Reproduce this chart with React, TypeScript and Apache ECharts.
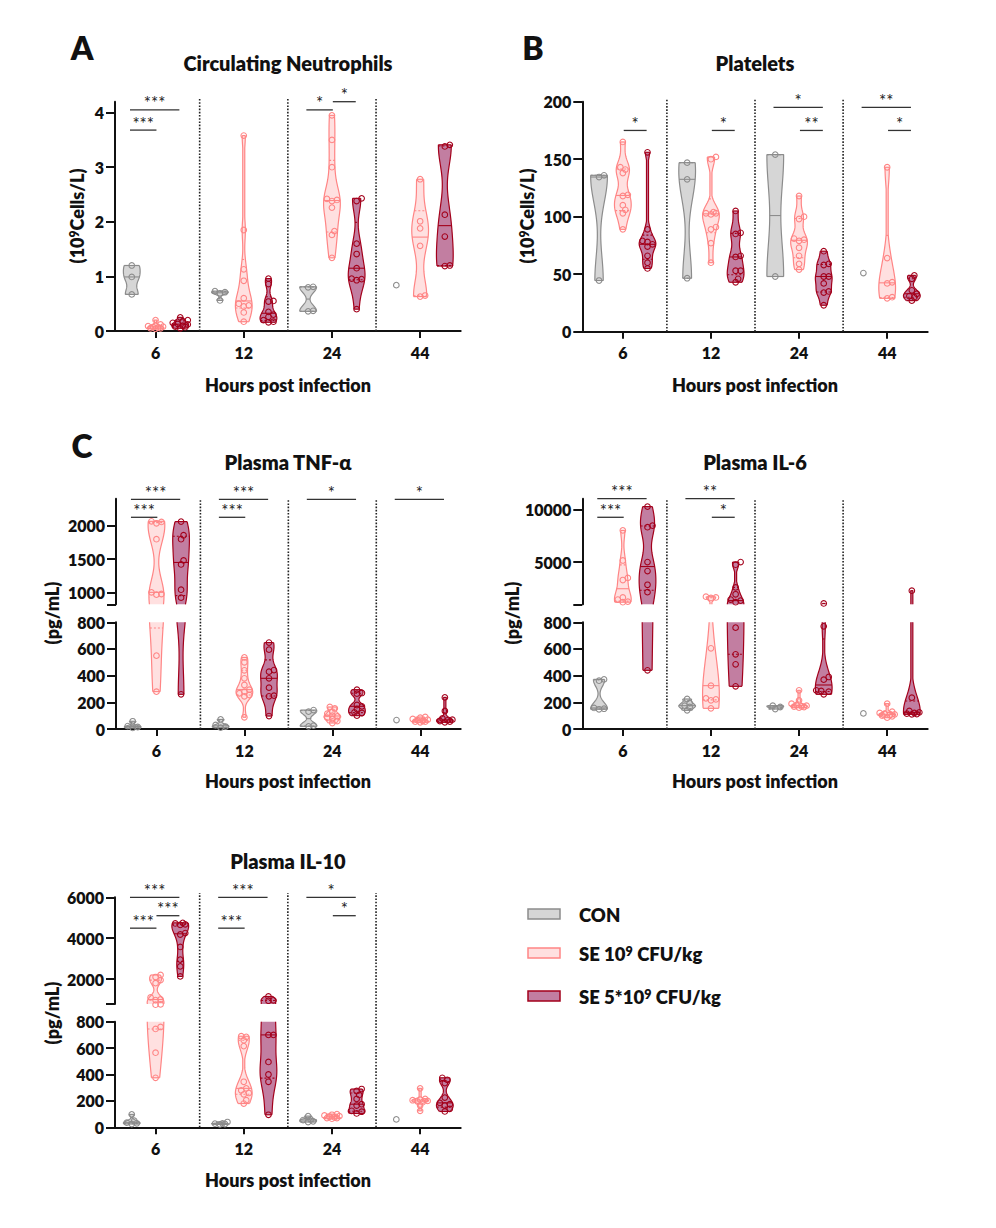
import { useEffect, useRef } from 'react';
import * as echarts from 'echarts';

const HOURS = ['6', '12', '24', '44'];

// Circulating neutrophils (10^9 cells/L), one list per time point
const NEUT_CON = [[1.2, 0.99, 0.67], [0.73, 0.71, 0.69, 0.56], [0.81, 0.8, 0.37, 0.36], [0.84]];
const NEUT_SE1 = [
  [0.2, 0.12, 0.1, 0.09, 0.08, 0.07, 0.06, 0.05, 0.05, 0.04],
  [3.58, 1.85, 1.13, 0.92, 0.6, 0.5, 0.47, 0.45, 0.34, 0.17],
  [3.95, 3.5, 3.0, 2.42, 2.4, 2.38, 2.26, 1.83, 1.76, 1.34],
  [2.78, 2.01, 1.88, 1.56, 0.65, 0.63],
];
const NEUT_SE5 = [
  [0.25, 0.2, 0.18, 0.15, 0.13, 0.12, 0.1, 0.08, 0.07, 0.05],
  [0.96, 0.86, 0.55, 0.54, 0.35, 0.3, 0.26, 0.2, 0.17, 0.16],
  [2.43, 2.38, 1.6, 1.41, 1.15, 0.96, 0.95, 0.93, 0.4],
  [3.41, 3.38, 2.13, 1.73, 1.2, 1.19],
];

// Platelets (10^9 cells/L)
const PLT_CON = [[136, 134.5, 44.5], [147, 132.5, 46.5], [154, 48], [51]];
const PLT_SE1 = [
  [165, 143, 141, 138, 119, 118, 110, 106, 103, 89],
  [152, 150, 104, 103, 103, 102, 91, 89, 77, 60],
  [118, 100, 98, 81, 80, 79, 73, 66, 59, 54],
  [143, 64, 43, 42, 30, 29],
];
const PLT_SE5 = [
  [156, 89, 79, 78, 76, 74, 66, 60, 55],
  [105, 86, 85, 66, 65, 53, 53, 46, 43],
  [70, 59, 58, 48, 48, 42, 35, 34, 23],
  [49, 46, 36, 33, 31, 30, 27],
];

// Plasma TNF-alpha (pg/mL)
const TNF_CON = [[58, 22, 15, 8], [72, 30, 18, 10], [142, 130, 25, 20], [67]];
const TNF_SE1 = [
  [2070, 2060, 2040, 1800, 1000, 975, 965, 550, 280],
  [537, 500, 440, 380, 330, 295, 280, 268, 255, 245, 88],
  [165, 155, 130, 115, 100, 95, 85, 75, 60, 45],
  [90, 85, 75, 70, 65, 60, 55, 55, 50],
];
const TNF_SE5 = [
  [2065, 1860, 1800, 1480, 1420, 1040, 920, 260],
  [648, 595, 442, 430, 380, 310, 250, 245, 97],
  [295, 270, 265, 180, 170, 150, 125, 120, 100],
  [237, 135, 80, 70, 65, 60, 55, 50],
];

// Plasma IL-6 (pg/mL)
const IL6_CON = [[372, 362, 158, 152, 148], [225, 195, 175, 165, 140], [175, 165, 150], [117]];
const IL6_SE1 = [
  [8000, 5150, 3500, 3300, 1650, 1450, 1250, 1200],
  [1720, 1650, 1600, 605, 325, 230, 222, 215, 155],
  [290, 215, 190, 180, 175, 170, 168, 165, 160],
  [190, 130, 120, 115, 110, 105, 100, 95, 85],
];
const IL6_SE5 = [
  [10250, 8450, 8300, 5000, 4150, 2850, 2150, 440],
  [5000, 4750, 2600, 1950, 1450, 1350, 1200, 760, 560, 485, 320],
  [1080, 770, 390, 370, 290, 285, 280, 260],
  [2290, 235, 135, 125, 120, 115, 112, 110],
];

// Plasma IL-10 (pg/mL)
const IL10_CON = [[98, 50, 35, 30, 25], [40, 30, 28, 25, 22], [85, 60, 55, 45, 40], [60]];
const IL10_SE1 = [
  [2200, 2100, 1950, 1800, 1100, 1000, 970, 760, 745, 565, 375],
  [690, 685, 660, 615, 345, 295, 280, 260, 250, 205, 180],
  [100, 95, 90, 85, 80, 75, 70, 70, 65],
  [295, 215, 210, 205, 200, 195, 190, 165, 125],
];
const IL10_SE5 = [
  [4750, 4720, 4680, 4650, 4250, 4180, 3570, 2950, 2620, 2130],
  [1150, 960, 940, 700, 700, 495, 400, 345, 95],
  [290, 275, 245, 215, 175, 165, 125, 118, 105],
  [375, 360, 335, 225, 185, 175, 165, 140, 120],
];

// significance brackets: [hour index, from group, to group, level, stars]
const NEUT_SIG = [[0, 0, 2, 4.05, '***'], [0, 0, 1, 3.68, '***'], [2, 0, 1, 4.05, '*'], [2, 1, 2, 4.2, '*']];
const PLT_SIG = [
  [0, 1, 2, 175, '*'], [1, 1, 2, 175, '*'], [2, 0, 2, 195, '*'], [2, 1, 2, 175, '**'],
  [3, 0, 2, 195, '**'], [3, 1, 2, 175, '*'],
];
const TNF_SIG = [
  [0, 0, 2, 2400, '***'], [0, 0, 1, 2130, '***'], [1, 0, 2, 2400, '***'], [1, 0, 1, 2130, '***'],
  [2, 0, 2, 2400, '*'], [3, 0, 2, 2400, '*'],
];
const IL6_SIG = [[0, 0, 2, 11000, '***'], [0, 0, 1, 9240, '***'], [1, 0, 2, 11000, '**'], [1, 1, 2, 9240, '*']];
const IL10_SIG = [
  [0, 0, 2, 6000, '***'], [0, 0, 1, 4490, '***'], [0, 1, 2, 5100, '***'],
  [1, 0, 2, 6000, '***'], [1, 0, 1, 4490, '***'], [2, 0, 2, 6000, '*'], [2, 1, 2, 5100, '*'],
];

const FONT = 'Lato, "Open Sans", "Noto Sans", sans-serif';
const WEIGHT = 800;
const COLORS = [
  { fill: '#d6d6d6', line: '#8c8c8c' },
  { fill: '#ffe0e0', line: '#ff8585' },
  { fill: '#c27ea1', line: '#a3001b' },
];
const X_MIN = -0.46;
const X_MAX = 3.46;
const VIOLIN_X = [-0.27, 0, 0.28];
const BR_X = [-0.29, 0.01, 0.27];
const HALF_W = 0.095;
const DOT_R = 2.8;

const quartile = (s: number[], p: number) => {
  const pos = (s.length + 1) * p;
  const i = Math.floor(pos);
  if (i < 1) return s[0];
  if (i >= s.length) return s[s.length - 1];
  return s[i - 1] + (pos - i) * (s[i] - s[i - 1]);
};

// kernel density, truncated at min / max like Prism
const makeProfile = (vals: number[]) => {
  const s = [...vals].sort((a, b) => a - b);
  const n = s.length;
  const range = s[n - 1] - s[0] || 1;
  const mean = s.reduce((a, b) => a + b, 0) / n;
  const sd = Math.sqrt(s.reduce((a, b) => a + (b - mean) ** 2, 0) / Math.max(n - 1, 1));
  let spread = Math.min(sd, (quartile(s, 0.75) - quartile(s, 0.25)) / 1.34);
  if (!(spread > 0)) spread = sd;
  const bw = Math.max(0.55 * spread * Math.pow(n, -0.2), range * 0.05);
  const raw = (v: number) => s.reduce((acc, x) => acc + Math.exp(-0.5 * ((v - x) / bw) ** 2), 0);
  let peak = 0;
  for (let i = 0; i <= 200; i++) peak = Math.max(peak, raw(s[0] + (range * i) / 200));
  return { s, min: s[0], max: s[n - 1], width: (v: number) => raw(v) / peak };
};

const violinRenderer = (sets: number[][][], lo: number, hi: number) => (_params: any, api: any) => {
  const h = api.value(0);
  const g = api.value(1);
  const vals: number[] = sets[g][h];
  const cx = h + VIOLIN_X[g];
  const px = api.coord([cx, lo])[0];
  const half = api.size([HALF_W, 0])[0];
  const col = COLORS[g];
  const yPx = (v: number) => api.coord([cx, v])[1];
  const children: any[] = [];

  if (vals.length > 1) {
    const prof = makeProfile(vals);
    const a = Math.max(prof.min, lo);
    const b = Math.min(prof.max, hi);
    if (a <= b) {
      const right: number[][] = [];
      const left: number[][] = [];
      const steps = 60;
      for (let i = 0; i <= steps; i++) {
        const v = a + ((b - a) * i) / steps;
        const w = Math.max(prof.width(v), 0.12) * half;
        right.push([px + w, yPx(v)]);
        left.push([px - w, yPx(v)]);
      }
      const outline = { stroke: col.line, lineWidth: 1.2, fill: 'none' };
      children.push({ type: 'polygon', shape: { points: [...right, ...[...left].reverse()] }, style: { fill: col.fill } });
      children.push({ type: 'polyline', shape: { points: right }, style: outline });
      children.push({ type: 'polyline', shape: { points: left }, style: outline });
      if (a === prof.min) {
        children.push({ type: 'line', shape: { x1: left[0][0], y1: left[0][1], x2: right[0][0], y2: right[0][1] }, style: outline });
      }
      if (b === prof.max) {
        children.push({ type: 'line', shape: { x1: left[steps][0], y1: left[steps][1], x2: right[steps][0], y2: right[steps][1] }, style: outline });
      }
      const marks: [number, boolean][] = [
        [quartile(prof.s, 0.25), true],
        [quartile(prof.s, 0.5), false],
        [quartile(prof.s, 0.75), true],
      ];
      marks.forEach(([v, dotted]) => {
        if (v < lo || v > hi) return;
        const w = Math.max(prof.width(v), 0.12) * half;
        const y = yPx(v);
        children.push({
          type: 'line',
          shape: { x1: px - w, y1: y, x2: px + w, y2: y },
          style: { stroke: col.line, lineWidth: 1.1, lineDash: dotted ? [2, 2] : null },
        });
      });
    }
  }

  // points, spread sideways where they overlap (kept within the violin width)
  const placed: number[][] = [];
  const tol = (hi - lo) * 0.01;
  const maxOff = half + 1;
  [...vals].sort((x, y) => x - y).forEach((v) => {
    if (v < lo - tol || v > hi + tol) return;
    const y = yPx(v);
    let best = 0;
    let bestGap = -1;
    for (let k = 0; k < 40; k++) {
      const cand = k === 0 ? 0 : (k % 2 ? 1 : -1) * Math.ceil(k / 2) * 2.5;
      if (Math.abs(cand) > maxOff) break;
      const gap = placed.reduce((m, [qx, qy]) => Math.min(m, Math.hypot(cand - qx, y - qy)), 99);
      if (gap >= 4) {
        best = cand;
        bestGap = gap;
        break;
      }
      if (gap > bestGap) {
        best = cand;
        bestGap = gap;
      }
    }
    placed.push([best, y]);
    children.push({
      type: 'circle',
      shape: { cx: px + best, cy: y, r: DOT_R },
      style: { fill: 'none', stroke: col.line, lineWidth: 1.1 },
    });
  });
  return { type: 'group', children };
};

const bracketRenderer = (list: any[][]) => (_params: any, api: any) => ({
  type: 'group',
  children: list.flatMap(([h, a, b, y, label]) => {
    const p1 = api.coord([h + BR_X[a], y]);
    const p2 = api.coord([h + BR_X[b], y]);
    return [
      { type: 'line', shape: { x1: p1[0], y1: p1[1], x2: p2[0], y2: p2[1] }, style: { stroke: '#333', lineWidth: 1.3 } },
      {
        type: 'text',
        x: (p1[0] + p2[0]) / 2,
        y: p1[1] - 7,
        style: {
          text: label, fill: '#222', fontSize: 17, lineHeight: 10, fontFamily: FONT,
          align: 'center', verticalAlign: 'middle',
        },
      },
    ];
  }),
});

const separatorRenderer = (lo: number, topPx: number) => (_params: any, api: any) => ({
  type: 'group',
  children: [0.5, 1.5, 2.5].map((x) => {
    const p = api.coord([x, lo]);
    return {
      type: 'line',
      shape: { x1: p[0], y1: p[1], x2: p[0], y2: topPx },
      style: { stroke: '#222', lineWidth: 1.6, lineDash: [1.6, 1.6] },
    };
  }),
});

interface Seg { top: number; bottom: number; min: number; max: number; ticks: number[]; labels: number[] }
interface Panel { sets: number[][][]; sig: any[][]; left: number; width: number; sepTop: number; segs: Seg[] }

const LOWER = [0, 200, 400, 600, 800];

const PANELS: Panel[] = [
  {
    sets: [NEUT_CON, NEUT_SE1, NEUT_SE5], sig: NEUT_SIG, left: 115, width: 345.7, sepTop: 98,
    segs: [{ top: 101.7, bottom: 331, min: 0, max: 4.2, ticks: [0, 1, 2, 3, 4], labels: [0, 1, 2, 3, 4] }],
  },
  {
    sets: [PLT_CON, PLT_SE1, PLT_SE5], sig: PLT_SIG, left: 582.3, width: 345.4, sepTop: 98,
    segs: [{ top: 101.7, bottom: 331.7, min: 0, max: 200, ticks: [0, 50, 100, 150, 200], labels: [0, 50, 100, 150, 200] }],
  },
  {
    sets: [TNF_CON, TNF_SE1, TNF_SE5], sig: TNF_SIG, left: 116, width: 344.7, sepTop: 498.7,
    segs: [
      { top: 498.7, bottom: 604.3, min: 820, max: 2410, ticks: [820, 1000, 1500, 2000], labels: [1000, 1500, 2000] },
      { top: 622.3, bottom: 729, min: 0, max: 800, ticks: LOWER, labels: LOWER },
    ],
  },
  {
    sets: [IL6_CON, IL6_SE1, IL6_SE5], sig: IL6_SIG, left: 582.3, width: 345.4, sepTop: 498.7,
    segs: [
      { top: 498.7, bottom: 604.3, min: 1000, max: 11000, ticks: [1000, 5000, 10000], labels: [5000, 10000] },
      { top: 622.3, bottom: 729, min: 0, max: 800, ticks: LOWER, labels: LOWER },
    ],
  },
  {
    sets: [IL10_CON, IL10_SE1, IL10_SE5], sig: IL10_SIG, left: 115, width: 345.7, sepTop: 893,
    segs: [
      { top: 897.3, bottom: 1004, min: 780, max: 6000, ticks: [780, 2000, 4000, 6000], labels: [2000, 4000, 6000] },
      { top: 1021.7, bottom: 1127.3, min: 0, max: 800, ticks: LOWER, labels: LOWER },
    ],
  },
];

const axisStroke = { color: '#111', width: 2 };
const tickFont = { color: '#111', fontSize: 16, fontWeight: WEIGHT, fontFamily: FONT };

const supRich = (size: number) => ({
  n: { fontSize: size, fontWeight: WEIGHT, fontFamily: FONT, fill: '#111', color: '#111' },
  s: { fontSize: size * 0.68, fontWeight: WEIGHT, fontFamily: FONT, fill: '#111', color: '#111', verticalAlign: 'top' },
});

const text = (x: number, y: number, t: string, size: number, extra: any = {}) => ({
  type: 'text',
  x,
  y,
  silent: true,
  ...extra,
  style: {
    text: t, fontSize: size, fontWeight: WEIGHT, fontFamily: FONT, fill: '#111',
    align: 'center', verticalAlign: 'middle', ...(extra.style || {}),
  },
});

const buildOption = () => {
  const grid: any[] = [];
  const xAxis: any[] = [];
  const yAxis: any[] = [];
  const series: any[] = [];

  PANELS.forEach((p) => {
    p.segs.forEach((s, si) => {
      const gi = grid.length;
      const isTop = si === 0;
      const isBottom = si === p.segs.length - 1;
      grid.push({ left: p.left, top: s.top, width: p.width, height: s.bottom - s.top });
      xAxis.push({
        gridIndex: gi, type: 'value', min: X_MIN, max: X_MAX, show: isBottom,
        axisLine: { show: true, onZero: false, lineStyle: axisStroke },
        axisTick: { show: true, length: 7, lineStyle: axisStroke, customValues: [0, 1, 2, 3] },
        axisLabel: { ...tickFont, margin: 13, customValues: [0, 1, 2, 3], formatter: (v: number) => HOURS[Math.round(v)] },
        splitLine: { show: false },
      });
      yAxis.push({
        gridIndex: gi, type: 'value', min: s.min, max: s.max,
        axisLine: { show: true, onZero: false, lineStyle: axisStroke },
        axisTick: { show: true, length: 9, lineStyle: axisStroke, customValues: s.ticks },
        axisLabel: { ...tickFont, margin: 11, customValues: s.labels, formatter: (v: number) => String(v) },
        splitLine: { show: false },
      });
      const items: number[][] = [];
      for (let h = 0; h < 4; h++) for (let g = 0; g < 3; g++) items.push([h, g]);
      series.push({
        type: 'custom', xAxisIndex: gi, yAxisIndex: gi, clip: false, silent: true, z: 3,
        data: items, renderItem: violinRenderer(p.sets, s.min, s.max),
      });
      if (isTop) {
        series.push({
          type: 'custom', xAxisIndex: gi, yAxisIndex: gi, clip: false, silent: true, z: 4,
          data: [[0, s.min]], renderItem: bracketRenderer(p.sig),
        });
      }
      if (isBottom) {
        series.push({
          type: 'custom', xAxisIndex: gi, yAxisIndex: gi, clip: false, silent: true, z: 2,
          data: [[0, s.min]], renderItem: separatorRenderer(s.min, p.sepTop),
        });
      }
    });
  });

  const graphic: any[] = [
    text(82, 47, 'A', 32),
    text(533, 47, 'B', 32),
    text(82, 445, 'C', 32),
    text(288, 63, 'Circulating Neutrophils', 20),
    text(755, 63, 'Platelets', 20),
    text(288, 462, 'Plasma TNF-α', 20),
    text(755, 462, 'Plasma IL-6', 20),
    text(288, 861, 'Plasma IL-10', 20),
    text(77, 216, '{n|(10}{s|9}{n|Cells/L)}', 18, { rotation: Math.PI / 2, style: { rich: supRich(18) } }),
    text(527, 216, '{n|(10}{s|9}{n|Cells/L)}', 18, { rotation: Math.PI / 2, style: { rich: supRich(18) } }),
    text(52, 613, '(pg/mL)', 18, { rotation: Math.PI / 2 }),
    text(512, 613, '(pg/mL)', 18, { rotation: Math.PI / 2 }),
    text(52, 1013, '(pg/mL)', 18, { rotation: Math.PI / 2 }),
    text(288, 385, 'Hours post infection', 18),
    text(755, 385, 'Hours post infection', 18),
    text(288, 781, 'Hours post infection', 18),
    text(755, 781, 'Hours post infection', 18),
    text(288, 1180, 'Hours post infection', 18),
  ];

  const legendNames = ['{n|CON}', '{n|SE 10}{s|9}{n| CFU/kg}', '{n|SE 5*10}{s|9}{n| CFU/kg}'];
  const legendY = [914, 953, 996];
  legendNames.forEach((name, i) => {
    graphic.push({
      type: 'rect',
      shape: { x: 528, y: legendY[i] - 5, width: 32, height: 10 },
      style: { fill: COLORS[i].fill, stroke: COLORS[i].line, lineWidth: 1.5 },
    });
    graphic.push(text(579, legendY[i] + 1, name, 18.5, { style: { align: 'left', rich: supRich(18.5) } }));
  });

  return { animation: false, grid, xAxis, yAxis, series, graphic };
};

export default function App() {
  const chartRef = useRef<HTMLDivElement>(null);

  useEffect(() => {
    document.body.style.margin = '0';
    if (!chartRef.current) return;
    const chart = echarts.init(chartRef.current, undefined, { renderer: 'svg' });
    chart.setOption(buildOption() as any);
    return () => chart.dispose();
  }, []);

  return <div ref={chartRef} style={{ width: 996, height: 1228 }} />;
}
